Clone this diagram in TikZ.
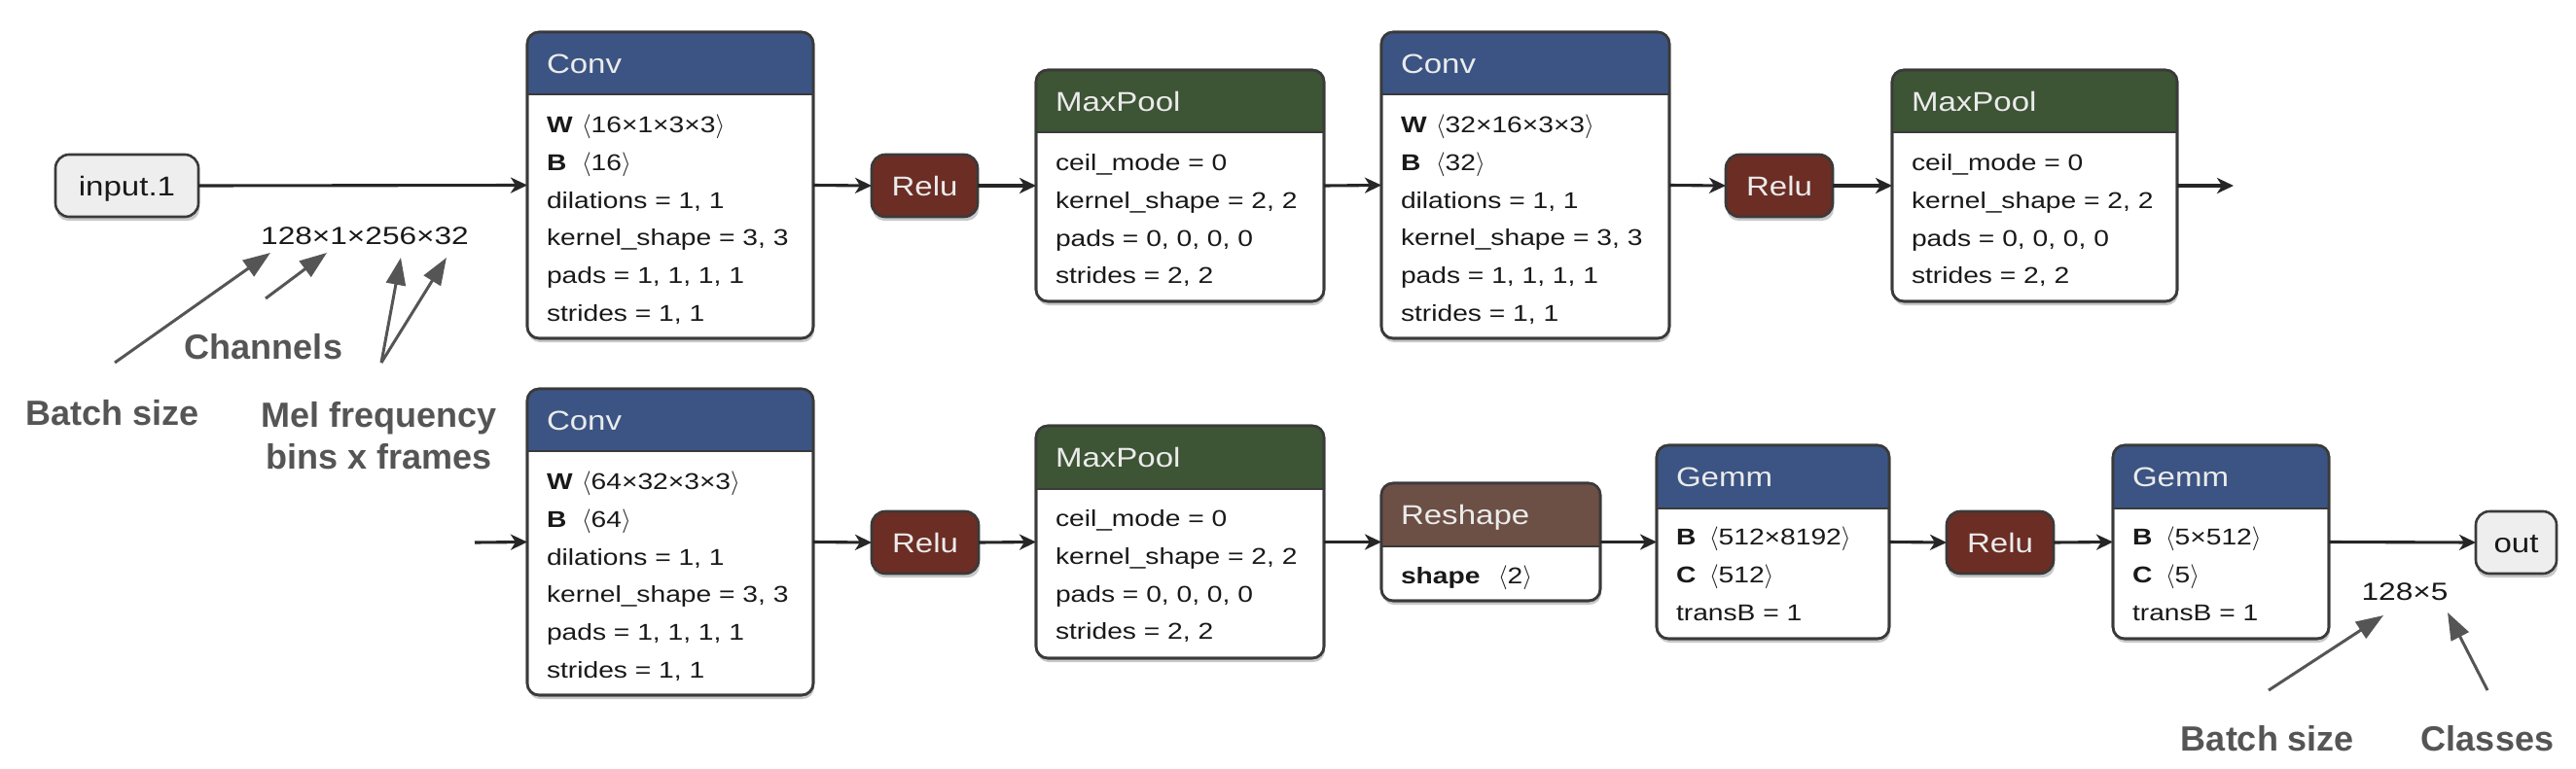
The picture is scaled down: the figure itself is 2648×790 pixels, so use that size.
\documentclass[tikz,border=0pt]{standalone}
\usepackage{fontspec}
\setmainfont{Liberation Sans}
\newfontfamily\bodyfont{Liberation Sans}[FakeStretch=1.2]
\newfontfamily\headfont{Liberation Sans}[FakeStretch=1.18]
\newfontfamily\labelfont{Liberation Sans}[FakeStretch=1.24]
\usetikzlibrary{arrows.meta}
\definecolor{convblue}{RGB}{59,84,131}
\definecolor{poolgreen}{RGB}{61,84,53}
\definecolor{relured}{RGB}{107,45,36}
\definecolor{reshapebrown}{RGB}{108,79,69}
\definecolor{iobg}{RGB}{238,238,238}
\definecolor{edgegray}{RGB}{58,58,58}
\definecolor{annogray}{RGB}{85,85,85}
\definecolor{bodyink}{RGB}{25,25,25}
\definecolor{shadowgray}{RGB}{200,200,200}
\tikzset{
  every node/.style={inner sep=0pt, outer sep=0pt},
  opframe/.style={draw=edgegray, line width=2.6pt, fill=white, rounded corners=12pt},
  boxline/.style={draw=edgegray, line width=2.6pt},
  softshadow/.style={fill=shadowgray, rounded corners=12pt},
  titletext/.style={font=\headfont\fontsize{28}{34}\selectfont, text=white!92!black, text height=20pt, text depth=0pt},
  bodytext/.style={font=\bodyfont\fontsize{23.5}{28}\selectfont, text=bodyink, text height=16.8pt, text depth=0pt},
  pill/.style={draw=edgegray, line width=2.6pt, rounded corners=14pt, font=\headfont\fontsize{28}{34}\selectfont, text height=20pt, text depth=0pt},
  flow/.style={draw=black!85, line width=3.1pt, -{Stealth[length=17pt,width=16pt,inset=5pt]}},
  annoarrow/.style={draw=annogray, line width=3pt, -{Triangle[length=28pt,width=20pt]}},
  annotext/.style={font=\bfseries\fontsize{36}{43}\selectfont, text=annogray, align=center},
  shapelabel/.style={font=\labelfont\fontsize{25.5}{30}\selectfont, text=bodyink, text height=18.2pt, text depth=0pt},
}
\newcommand\OpBox[8]{%
  \fill[softshadow] (#2+1,#3+4) rectangle ++(#4,#5);
  \node[opframe, minimum width=#4pt, minimum height=#5pt, anchor=north west] (#1) at (#2,#3) {};
  \begin{scope}
    \clip[rounded corners=12pt] (#1.north west) rectangle (#1.south east);
    \fill[#7] (#1.north west) rectangle ([yshift=-#6pt]#1.north east);
  \end{scope}
  \draw[boxline] ([yshift=-#6pt]#1.north west) -- ([yshift=-#6pt]#1.north east);
  \draw[boxline, rounded corners=12pt] (#1.north west) rectangle (#1.south east);
  \node[titletext, anchor=west] (#1-t) at ([xshift=20pt, yshift=-#6pt/2]#1.north west) {#8};
}
\newcommand\BodyLines[3]{%
  \foreach \lineT [count=\i] in {#3} {
    \node[bodytext, anchor=west] (#1-l\i) at ([xshift=20pt, yshift={-(#2+(\i-1)*38.8)*1pt}]#1.north west) {\lineT};
  }
}
\newcommand\Pill[7]{% name, x, y, w, fill, text colour, text
  \fill[softshadow] (#2+1,#3+4) rectangle ++(#4,64);
  \node[pill, fill=#5, text=#6, minimum width=#4pt, minimum height=64pt, anchor=north west] (#1) at (#2,#3) {#7};
}
\newcommand\Tag[2]{\makebox[#1][l]{\textbf{#2}}}
\newcommand\Lb{$\langle$}
\newcommand\Rb{$\rangle$}
\begin{document}
\begin{tikzpicture}[x=1pt,y=-1pt]
\useasboundingbox (0,0) rectangle (2648,790);
\fill[white] (0,0) rectangle (2648,790);

% ---------- row 1 ----------
\Pill{input}{57}{159}{147}{iobg}{bodyink}{input.1}

\OpBox{conv1}{542}{33}{294}{315}{64}{convblue}{Conv}
\BodyLines{conv1}{95}{{\Tag{36pt}{W}\Lb16×1×3×3\Rb},{\Tag{36pt}{B}\Lb16\Rb},{dilations = 1, 1},{kernel\_shape = 3, 3},{pads = 1, 1, 1, 1},{strides = 1, 1}}

\Pill{relu1}{896}{159}{109}{relured}{white!92!black}{Relu}

\OpBox{pool1}{1065}{72}{296}{238}{64}{poolgreen}{MaxPool}
\BodyLines{pool1}{95}{{ceil\_mode = 0},{kernel\_shape = 2, 2},{pads = 0, 0, 0, 0},{strides = 2, 2}}

\OpBox{conv2}{1420}{33}{296}{315}{64}{convblue}{Conv}
\BodyLines{conv2}{95}{{\Tag{36pt}{W}\Lb32×16×3×3\Rb},{\Tag{36pt}{B}\Lb32\Rb},{dilations = 1, 1},{kernel\_shape = 3, 3},{pads = 1, 1, 1, 1},{strides = 1, 1}}

\Pill{relu2}{1774}{159}{110}{relured}{white!92!black}{Relu}

\OpBox{pool2}{1945}{72}{293}{238}{64}{poolgreen}{MaxPool}
\BodyLines{pool2}{95}{{ceil\_mode = 0},{kernel\_shape = 2, 2},{pads = 0, 0, 0, 0},{strides = 2, 2}}

\coordinate (out1) at (2296,191);

\draw[flow] (input.east) -- (conv1.west);
\draw[flow] (conv1.east) -- (relu1.west);
\draw[flow] (relu1.east) -- (pool1.west);
\draw[flow] (pool1.east) -- (conv2.west);
\draw[flow] (conv2.east) -- (relu2.west);
\draw[flow] (relu2.east) -- (pool2.west);
\draw[flow] (pool2.east) -- (out1);

\node[shapelabel] (dims1) at (375,242) {128×1×256×32};

% ---------- row 2 ----------
\coordinate (in2) at (488,558);

\OpBox{conv3}{542}{400}{294}{315}{64}{convblue}{Conv}
\BodyLines{conv3}{95}{{\Tag{36pt}{W}\Lb64×32×3×3\Rb},{\Tag{36pt}{B}\Lb64\Rb},{dilations = 1, 1},{kernel\_shape = 3, 3},{pads = 1, 1, 1, 1},{strides = 1, 1}}

\Pill{relu3}{896}{526}{110}{relured}{white!92!black}{Relu}

\OpBox{pool3}{1065}{438}{296}{239}{65}{poolgreen}{MaxPool}
\BodyLines{pool3}{95}{{ceil\_mode = 0},{kernel\_shape = 2, 2},{pads = 0, 0, 0, 0},{strides = 2, 2}}

\OpBox{reshape}{1420}{497}{225}{121}{65}{reshapebrown}{Reshape}
\BodyLines{reshape}{95}{{\Tag{100pt}{shape}\Lb2\Rb}}

\OpBox{gemm1}{1703}{458}{239}{199}{65}{convblue}{Gemm}
\BodyLines{gemm1}{94}{{\Tag{34pt}{B}\Lb512×8192\Rb},{\Tag{34pt}{C}\Lb512\Rb},{transB = 1}}

\Pill{relu4}{2001}{526}{110}{relured}{white!92!black}{Relu}

\OpBox{gemm2}{2172}{458}{222}{199}{65}{convblue}{Gemm}
\BodyLines{gemm2}{94}{{\Tag{34pt}{B}\Lb5×512\Rb},{\Tag{34pt}{C}\Lb5\Rb},{transB = 1}}

\Pill{out}{2545}{526}{83}{iobg}{bodyink}{out}

\draw[flow] (in2) -- (conv3.west);
\draw[flow] (conv3.east) -- (relu3.west);
\draw[flow] (relu3.east) -- (pool3.west);
\draw[flow] (pool3.east) -- (reshape.west);
\draw[flow] (reshape.east) -- (gemm1.west);
\draw[flow] (gemm1.east) -- (relu4.west);
\draw[flow] (relu4.east) -- (gemm2.west);
\draw[flow] (gemm2.east) -- (out.west);

\node[shapelabel] (dims2) at (2472,608) {128×5};

% ---------- annotations ----------
\node[annotext] (batch1) at (116,425) {Batch size};
\node[annotext] (chan) at (271,357) {Channels};
\node[annotext] (mel) at (390,448) {Mel frequency\\bins x frames};
\node[annotext] (batch2) at (2331,760) {Batch size};
\node[annotext] (classes) at (2557,760) {Classes};

\coordinate (a1s) at (118,373); \coordinate (a1e) at (278,260);
\coordinate (a2s) at (273,307); \coordinate (a2e) at (336,260);
\coordinate (a3s) at (392,373); \coordinate (a3e) at (412,265);
\coordinate (a4e) at (459,265);
\coordinate (a5s) at (2332,710); \coordinate (a5e) at (2450,633);
\coordinate (a6s) at (2557,710); \coordinate (a6e) at (2516,630);
\draw[annoarrow] (a1s) -- (a1e);
\draw[annoarrow] (a2s) -- (a2e);
\draw[annoarrow] (a3s) -- (a3e);
\draw[annoarrow] (a3s) -- (a4e);
\draw[annoarrow] (a5s) -- (a5e);
\draw[annoarrow] (a6s) -- (a6e);
\end{tikzpicture}
\end{document}
